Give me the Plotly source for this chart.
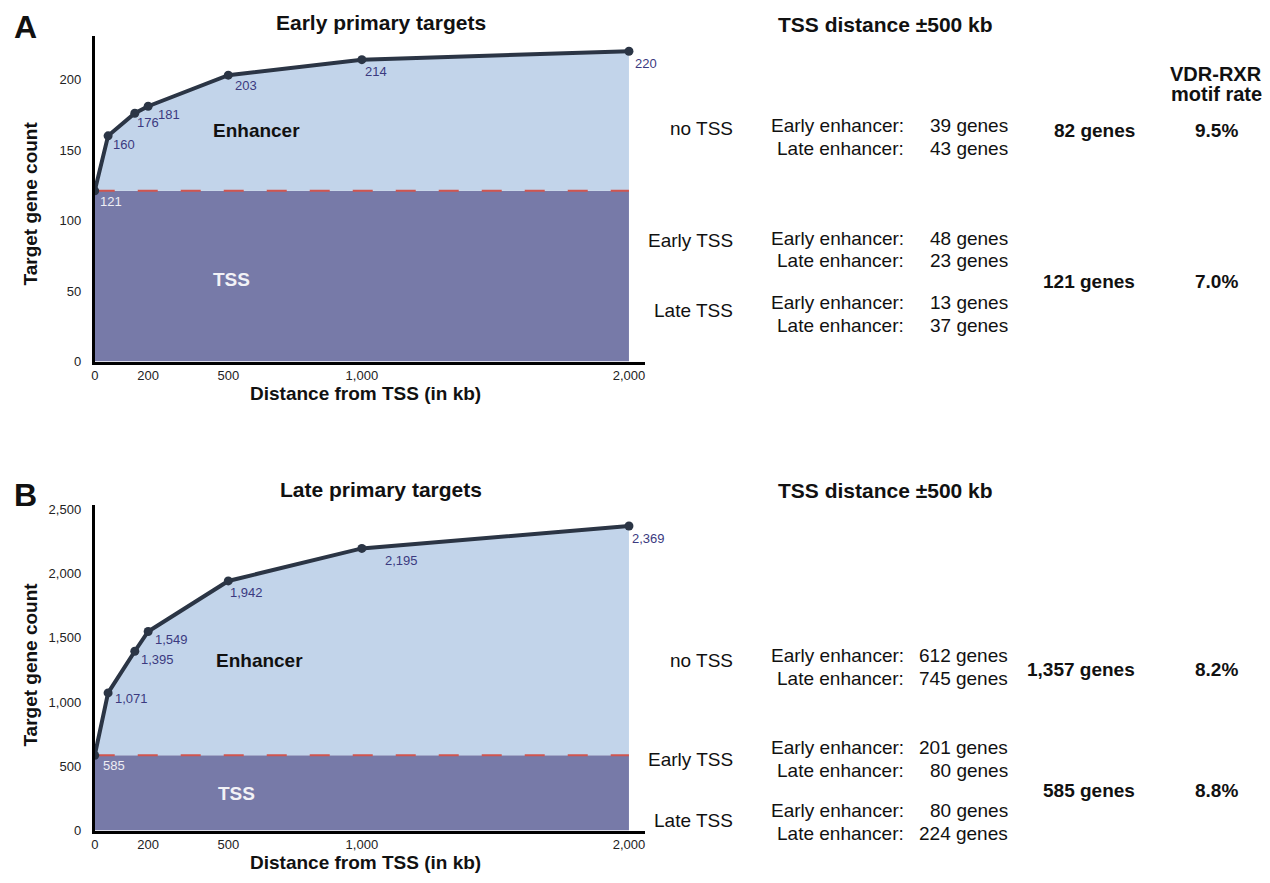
import plotly.graph_objects as go

# ---------------- data ----------------
distances_kb = [0, 50, 150, 200, 500, 1000, 2000]
early_counts = [121, 160, 176, 181, 203, 214, 220]
late_counts = [585, 1071, 1395, 1549, 1942, 2195, 2369]
early_tss_count = 121
late_tss_count = 585
x_tick_vals = [0, 200, 500, 1000, 2000]
early_y_ticks = [0, 50, 100, 150, 200]
late_y_ticks = [0, 500, 1000, 1500, 2000, 2500]

panel_titles = ["Early primary targets", "Late primary targets"]
side_title = "TSS distance ±500 kb"
group_labels = ["no TSS", "Early TSS", "Late TSS"]
enh_labels = ["Early enhancer:", "Late enhancer:"]
early_group_genes = [[39, 43], [48, 23], [13, 37]]
late_group_genes = [[612, 745], [201, 80], [80, 224]]
early_totals = ["82 genes", "121 genes"]
late_totals = ["1,357 genes", "585 genes"]
early_rates = ["9.5%", "7.0%"]
late_rates = ["8.2%", "8.8%"]

# ---------------- style ----------------
PAGE_OFF = 8            # default body margin of the html page
W, H = 1270 - PAGE_OFF, 883 - PAGE_OFF
FONT = "Liberation Sans, Arial, sans-serif"
C_ENH = "#c2d4ea"
C_TSS = "#777aa8"
C_LINE = "#2b3545"
C_DASH = "#d0554f"
C_VAL = "#3b3a80"

# label offsets (pixels, label centre relative to its point)
early_label_off = [(16, 11), (16, 9), (13, 9), (21, 8), (18, 10), (14, 12), (17, 12)]
late_label_off = [(19, 10), (23, 6), (23, 8), (23, 8), (18, 12), (40, 12), (20, 12)]


def px(x, y):
    return (x - PAGE_OFF) / W, 1 - (y - PAGE_OFF) / H


def xdom(a, b):
    return [(a - PAGE_OFF) / W, (b - PAGE_OFF) / W]


def ydom(top, bot):
    return [1 - (bot - PAGE_OFF) / H, 1 - (top - PAGE_OFF) / H]


fig = go.Figure()

panels = [
    dict(counts=early_counts, tss=early_tss_count, xa="x", ya="y", off=early_label_off),
    dict(counts=late_counts, tss=late_tss_count, xa="x2", ya="y2", off=late_label_off),
]

for p in panels:
    tss_line = [p["tss"]] * len(distances_kb)
    fig.add_trace(go.Scatter(x=distances_kb, y=tss_line, xaxis=p["xa"], yaxis=p["ya"],
                             mode="lines", line=dict(width=0, color=C_TSS),
                             fill="tozeroy", fillcolor=C_TSS, showlegend=False, hoverinfo="skip"))
    fig.add_trace(go.Scatter(x=distances_kb, y=p["counts"], xaxis=p["xa"], yaxis=p["ya"],
                             mode="lines", line=dict(width=0, color=C_ENH),
                             fill="tonexty", fillcolor=C_ENH, showlegend=False, hoverinfo="skip"))
    fig.add_trace(go.Scatter(x=distances_kb, y=tss_line, xaxis=p["xa"], yaxis=p["ya"],
                             mode="lines", line=dict(width=2, color=C_DASH, dash="20px,23px"),
                             showlegend=False, hoverinfo="skip"))
    fig.add_trace(go.Scatter(x=distances_kb, y=p["counts"], xaxis=p["xa"], yaxis=p["ya"],
                             mode="lines+markers", line=dict(width=4, color=C_LINE),
                             marker=dict(size=9, color=C_LINE), showlegend=False))
    for i, (d, v) in enumerate(zip(distances_kb, p["counts"])):
        dx, dy = p["off"][i]
        fig.add_annotation(x=d, y=v, xref=p["xa"], yref=p["ya"], text=f"{v:,}",
                           showarrow=False, xanchor="center", yanchor="middle",
                           xshift=dx, yshift=-dy,
                           font=dict(family=FONT, size=13,
                                     color="#eeeef4" if i == 0 else C_VAL))

axis_common = dict(showgrid=False, zeroline=False, showline=True, linecolor="black",
                   linewidth=3, ticks="", tickfont=dict(family=FONT, size=13, color="#222"),
                   fixedrange=True)

fig.update_layout(
    width=W, height=H, margin=dict(l=0, r=0, t=0, b=0),
    paper_bgcolor="white", plot_bgcolor="white",
    font=dict(family=FONT, color="#111"),
    xaxis=dict(domain=xdom(91, 643), range=[0, 2060], anchor="y",
               tickvals=x_tick_vals, tickformat=",", **axis_common),
    yaxis=dict(domain=ydom(33, 363), range=[0, 231], anchor="x",
               tickvals=early_y_ticks, ticklabelstandoff=8, **axis_common),
    xaxis2=dict(domain=xdom(91, 643), range=[0, 2060], anchor="y2",
                tickvals=x_tick_vals, tickformat=",", **axis_common),
    yaxis2=dict(domain=ydom(508, 838), range=[0, 2535], anchor="x2",
                tickvals=late_y_ticks, tickformat=",", ticklabelstandoff=8, **axis_common),
)


def txt(x, y, s, size=19, bold=False, anchor="center", color="#111", angle=0):
    xx, yy = px(x, y - 2)
    fig.add_annotation(x=xx, y=yy, xref="paper", yref="paper", text=f"<b>{s}</b>" if bold else s,
                       showarrow=False, xanchor=anchor, yanchor="middle", textangle=angle,
                       font=dict(family=FONT, size=size, color=color))


# panel letters & titles
txt(22, 26, "A", size=32, bold=True)
txt(22, 500, "B", size=32, bold=True)
txt(378, 22, panel_titles[0], size=21, bold=True)
txt(378, 495, panel_titles[1], size=21, bold=True)
txt(884, 24, side_title, size=21, bold=True)
txt(884, 496, side_title, size=21, bold=True)
txt(1216, 74, "VDR-RXR", size=20, bold=True)
txt(1216, 94, "motif rate", size=20, bold=True)

# axis titles
for yc, xy in [(205, 397), (672, 872)]:
    txt(27, yc, "Target gene count", size=19, bold=True, angle=-90)
    txt(363, xy, "Distance from TSS (in kb)", size=19, bold=True)

# region labels
txt(253, 131, "Enhancer", size=19, bold=True)
txt(228, 282, "TSS", size=19, bold=True, color="#f2f2f6")
txt(256, 668, "Enhancer", size=19, bold=True)
txt(233, 802, "TSS", size=19, bold=True, color="#f2f2f6")

# right-hand tables
grp_y_A = [129, 242, 313]
rows_y_A = [[126, 149], [240, 263], [305, 329]]
grp_y_B = [668, 768, 830]
rows_y_B = [[663, 686], [756, 779], [820, 843]]

for grp_y, rows_y, genes in [(grp_y_A, rows_y_A, early_group_genes),
                             (grp_y_B, rows_y_B, late_group_genes)]:
    for g, gy, ry, gn in zip(group_labels, grp_y, rows_y, genes):
        txt(733, gy, g, size=19, anchor="right")
        for lab, yy, n in zip(enh_labels, ry, gn):
            txt(905, yy, lab, size=19, anchor="right")
            txt(1009, yy, f"{n:,} genes", size=19, anchor="right")

for tots, rates, ys in [(early_totals, early_rates, [131, 284]),
                        (late_totals, late_rates, [677, 799])]:
    for t, r, yy in zip(tots, rates, ys):
        txt(1137, yy, t, size=19, bold=True, anchor="right")
        txt(1216, yy, r, size=19, bold=True)

fig.write_html("out.html")
